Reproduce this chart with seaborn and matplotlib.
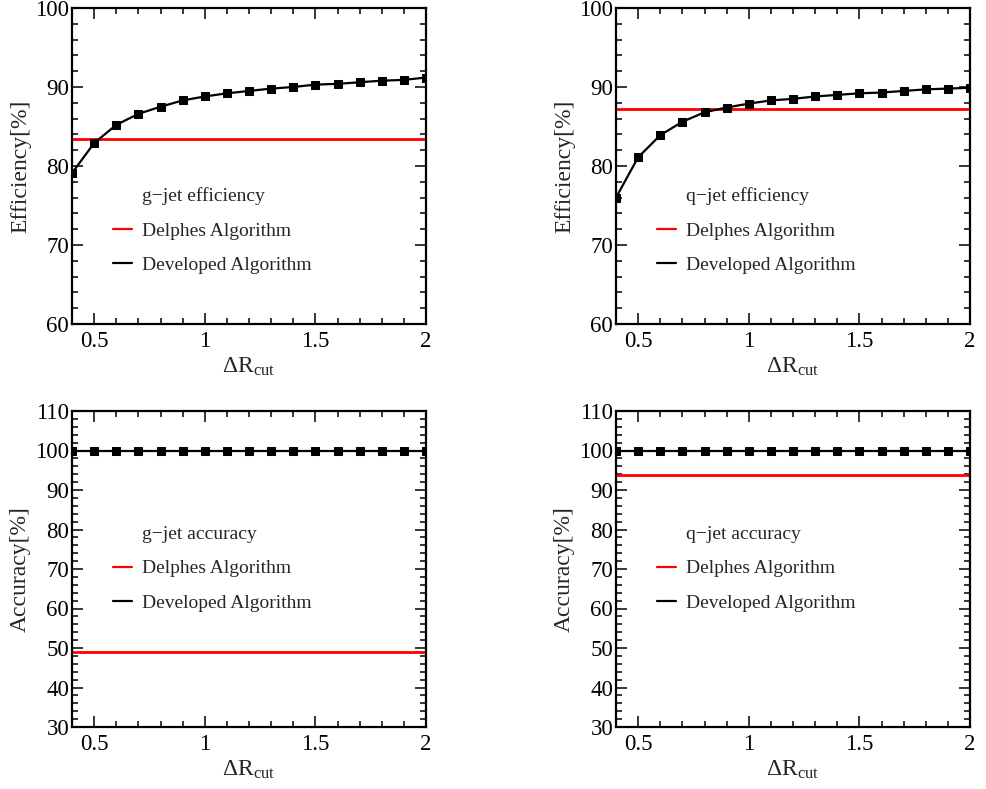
import numpy as np
import pandas as pd
import matplotlib
matplotlib.use("Agg")
import matplotlib.pyplot as plt
from matplotlib.lines import Line2D
from matplotlib.ticker import MultipleLocator, FuncFormatter
import seaborn as sns

# ---------------- data ----------------
dr_cut = [0.4, 0.5, 0.6, 0.7, 0.8, 0.9, 1.0, 1.1, 1.2, 1.3, 1.4, 1.5, 1.6, 1.7, 1.8, 1.9, 2.0]
g_eff_developed = [79.1, 82.9, 85.2, 86.6, 87.5, 88.3, 88.8, 89.2, 89.5, 89.8, 90.0, 90.3, 90.4, 90.6, 90.8, 90.9, 91.2]
q_eff_developed = [76.0, 81.1, 83.9, 85.6, 86.8, 87.4, 87.9, 88.3, 88.5, 88.8, 89.0, 89.2, 89.3, 89.5, 89.7, 89.8, 89.9]
g_acc_developed = [100.0] * 17
q_acc_developed = [100.0] * 17
g_eff_delphes = 83.4
q_eff_delphes = 87.2
g_acc_delphes = 48.9
q_acc_delphes = 93.7

panel_titles = ["g\u2212jet efficiency", "q\u2212jet efficiency", "g\u2212jet accuracy", "q\u2212jet accuracy"]
y_labels = ["Efficiency[%]", "Efficiency[%]", "Accuracy[%]", "Accuracy[%]"]
legend_labels = ["Delphes Algorithm", "Developed Algorithm"]
x_label = r"$\Delta\mathrm{R}_{\mathrm{cut}}$"

# ---------------- style ----------------
sns.set_theme(style="ticks")
plt.rcParams["font.family"] = ["Liberation Serif", "DejaVu Serif"]
plt.rcParams["mathtext.fontset"] = "custom"
plt.rcParams["mathtext.rm"] = "Liberation Serif"
plt.rcParams["mathtext.it"] = "Liberation Serif:italic"

fig = plt.figure(figsize=(9.86, 7.89), dpi=100)
W, H = 986, 789
def axes_px(x0, y0, x1, y1):
    return fig.add_axes([x0 / W, 1 - y1 / H, (x1 - x0) / W, (y1 - y0) / H])

axes = [
    axes_px(72, 8, 426, 324),
    axes_px(616, 8, 970, 324),
    axes_px(72, 411, 426, 727),
    axes_px(616, 411, 970, 727),
]

developed = [g_eff_developed, q_eff_developed, g_acc_developed, q_acc_developed]
delphes = [g_eff_delphes, q_eff_delphes, g_acc_delphes, q_acc_delphes]
ylims = [(60, 100), (60, 100), (30, 110), (30, 110)]
legend_top = [0.432, 0.432, 0.637, 0.637]

fmt = FuncFormatter(lambda v, p: "%g" % v)

for i, ax in enumerate(axes):
    df = pd.DataFrame({"dr": dr_cut, "dev": developed[i], "delphes": [delphes[i]] * len(dr_cut)})
    sns.lineplot(data=df, x="dr", y="delphes", ax=ax, color="red", linewidth=2.0, zorder=2)
    sns.lineplot(data=df, x="dr", y="dev", ax=ax, color="black", linewidth=1.6,
                 marker="s", markersize=6, markeredgecolor="black", zorder=3)
    ax.set_xlim(0.4, 2.0)
    ax.set_ylim(*ylims[i])
    ax.xaxis.set_major_locator(MultipleLocator(0.5))
    ax.xaxis.set_minor_locator(MultipleLocator(0.1))
    ax.yaxis.set_major_locator(MultipleLocator(10))
    ax.yaxis.set_minor_locator(MultipleLocator(2))
    ax.xaxis.set_major_formatter(fmt)
    ax.yaxis.set_major_formatter(fmt)
    ax.tick_params(which="both", direction="in", top=True, right=True, width=1.1, colors="black")
    ax.tick_params(which="major", length=8, labelsize=16.5)
    ax.tick_params(which="minor", length=4)
    ax.tick_params(axis="x", which="major", pad=5)
    ax.tick_params(axis="y", which="major", pad=2)
    for s in ax.spines.values():
        s.set_linewidth(1.6)
        s.set_color("black")
        s.set_visible(True)
    ax.set_xlabel(x_label, fontsize=17, labelpad=3)
    ax.set_ylabel(y_labels[i], fontsize=17, labelpad=3)

    handles = [Line2D([], [], linestyle="none"),
               Line2D([], [], color="red", linewidth=1.6),
               Line2D([], [], color="black", linewidth=1.6)]
    labels = [panel_titles[i]] + legend_labels
    ax.legend(handles, labels, loc="upper left", bbox_to_anchor=(0.116, legend_top[i]),
              frameon=False, fontsize=14, handlelength=0.95, handletextpad=0.55,
              labelspacing=0.85, borderpad=0, borderaxespad=0)

fig.savefig("out.png", dpi=100)
